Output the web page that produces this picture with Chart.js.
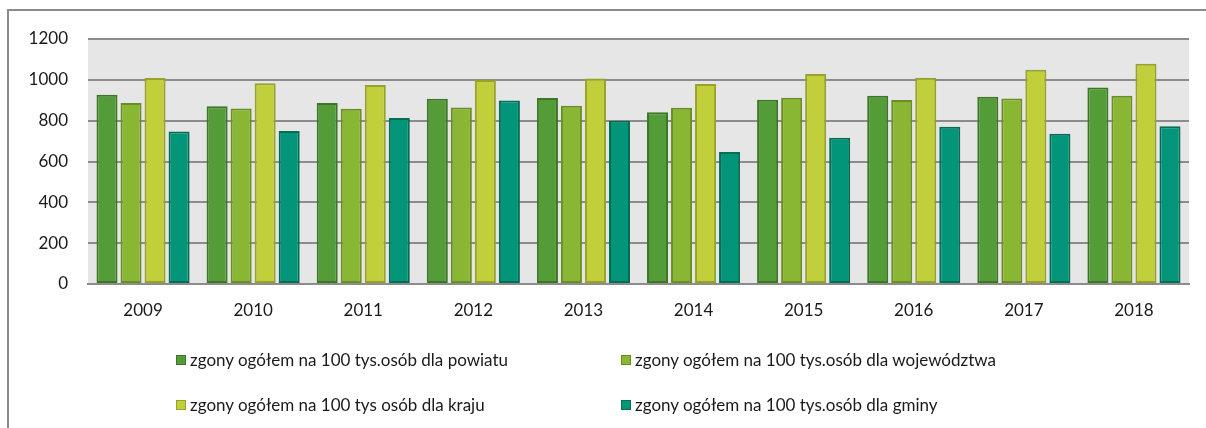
<!DOCTYPE html>
<html lang="pl">
<head>
<meta charset="utf-8">
<script src="https://cdn.jsdelivr.net/npm/chart.js@4"></script>
<style>
  body { margin: 0; background: #fff; font-family: Lato, "Open Sans", sans-serif; }
  #wrap { position: relative; width: 1206px; height: 428px; overflow: hidden; }
  #frame { position: absolute; left: 7px; top: 9px; width: 1300px; height: 500px;
           border-top: 2px solid #8a8a8a; border-left: 2px solid #8a8a8a; }
  #box { position: absolute; left: 0; top: 0; width: 1206px; height: 330px; }
  #legend { position: absolute; left: 0; top: 0; width: 1206px; height: 428px; pointer-events: none; }
  .item { position: absolute; display: flex; align-items: center; font-size: 17px; color: #1a1a1a; white-space: nowrap; }
  .item span.sw { width: 8px; height: 8px; border: 1px solid; margin-right: 4px; }
</style>
</head>
<body>
<div id="wrap">
  <div id="frame"></div>
  <div id="box"><canvas id="zgonyChart"></canvas></div>
  <div id="legend"></div>
</div>
<script>
// lata i wartości (zgony na 100 tys. osób)
const years = ['2009', '2010', '2011', '2012', '2013', '2014', '2015', '2016', '2017', '2018'];
const powiat = [927, 871, 886, 907, 911, 841, 903, 922, 917, 962];
const wojewodztwo = [886, 860, 858, 865, 873, 863, 912, 901, 909, 922];
const kraj = [1009, 983, 975, 999, 1007, 979, 1028, 1010, 1049, 1079];
const gmina = [747, 749, 813, 899, 800, 647, 716, 770, 736, 773];
const yTicks = [0, 200, 400, 600, 800, 1000, 1200];

const seriesLabels = [
  'zgony ogółem na 100 tys.osób dla powiatu',
  'zgony ogółem na 100 tys.osób dla województwa',
  'zgony ogółem na 100 tys osób dla kraju',
  'zgony ogółem na 100 tys.osób dla gminy'
];
const fills = ['#539c38', '#89b733', '#c1cf3a', '#03957a'];
const borders = ['#3e7628', '#6a8e24', '#97a22a', '#026e53'];

const plotBg = {
  id: 'plotBg',
  beforeDraw(chart) {
    const { ctx, chartArea: a } = chart;
    ctx.save();
    ctx.fillStyle = '#e6e6e6';
    ctx.fillRect(a.left, a.top, a.right - a.left, a.bottom - a.top);
    ctx.restore();
  }
};

const tickFont = { family: 'Lato', size: 17 };

const ctx = document.getElementById('zgonyChart').getContext('2d');
const chart = new Chart(ctx, {
  type: 'bar',
  data: {
    labels: years,
    datasets: [powiat, wojewodztwo, kraj, gmina].map((d, i) => ({
      label: seriesLabels[i],
      data: d,
      backgroundColor: fills[i],
      borderColor: borders[i],
      borderWidth: 2,
      borderSkipped: false,
      categoryPercentage: 0.873,
      barPercentage: 0.875
    }))
  },
  options: {
    responsive: true,
    maintainAspectRatio: false,
    animation: false,
    layout: { padding: { left: 0, right: 17, top: 39, bottom: 0 } },
    plugins: {
      legend: { display: false },
      tooltip: { enabled: false }
    },
    scales: {
      x: {
        grid: { display: false, drawTicks: false },
        border: { display: true, color: '#8c8c8c', width: 2 },
        ticks: { color: '#1a1a1a', padding: 16, font: tickFont },
        afterFit(scale) { scale.height = 46; }
      },
      y: {
        min: 0,
        max: 1200,
        afterBuildTicks(scale) { scale.ticks = yTicks.map(v => ({ value: v })); },
        grid: { color: '#8c8c8c', lineWidth: 2, drawTicks: false },
        border: { display: false },
        ticks: { color: '#1a1a1a', padding: 20, font: tickFont, callback: v => String(v) },
        afterFit(scale) { scale.width = 88; }
      }
    }
  },
  plugins: [plotBg]
});

// legenda w dwóch kolumnach
const legendPos = [[176, 360], [621, 360], [176, 405], [621, 405]];
const legend = document.getElementById('legend');
chart.data.datasets.forEach((ds, i) => {
  const el = document.createElement('div');
  el.className = 'item';
  el.style.left = legendPos[i][0] + 'px';
  el.style.top = (legendPos[i][1] - 11) + 'px';
  const sw = document.createElement('span');
  sw.className = 'sw';
  sw.style.background = ds.backgroundColor;
  sw.style.borderColor = ds.borderColor;
  const txt = document.createElement('span');
  txt.textContent = ds.label;
  el.appendChild(sw);
  el.appendChild(txt);
  legend.appendChild(el);
});
</script>
</body>
</html>
